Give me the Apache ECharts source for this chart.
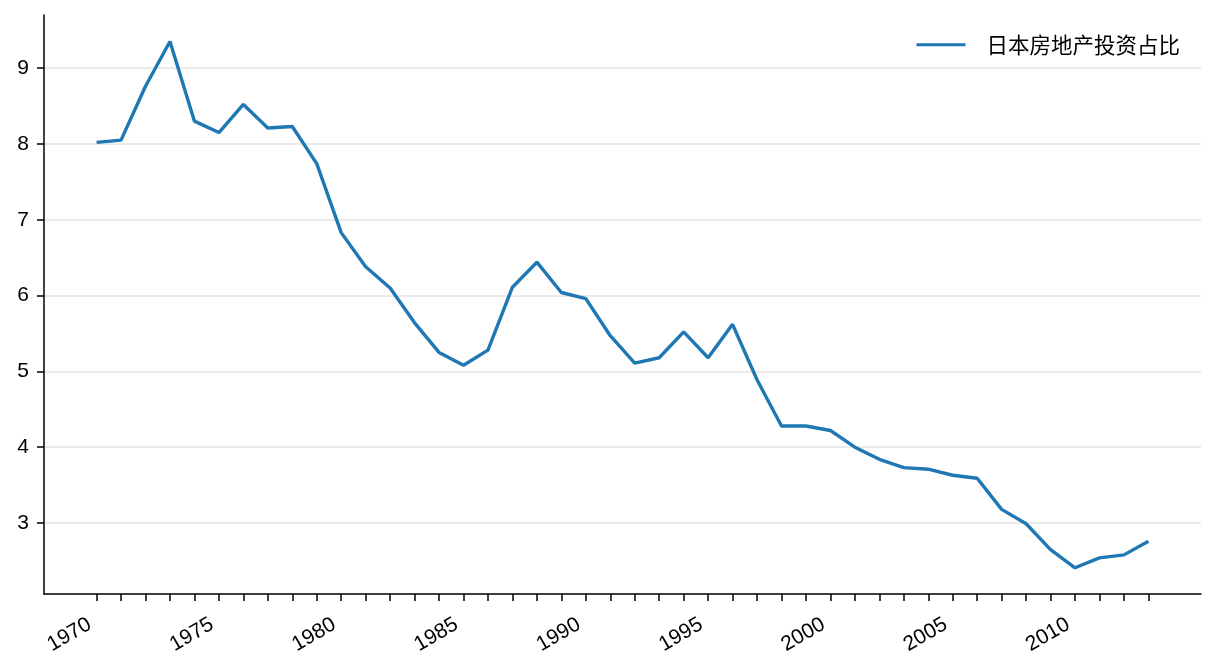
<!DOCTYPE html>
<html>
<head>
<meta charset="utf-8">
<script src="https://cdn.jsdelivr.net/npm/echarts@6/dist/echarts.min.js"></script>
<style>
html,body{margin:0;padding:0;background:#fff;}
#chart{width:1216px;height:672px;}
</style>
</head>
<body>
<div id="chart"></div>
<script>
const years = [1970,1971,1972,1973,1974,1975,1976,1977,1978,1979,
  1980,1981,1982,1983,1984,1985,1986,1987,1988,1989,
  1990,1991,1992,1993,1994,1995,1996,1997,1998,1999,
  2000,2001,2002,2003,2004,2005,2006,2007,2008,2009,
  2010,2011,2012,2013];
const values = [8.02,8.05,8.76,9.35,8.30,8.15,8.52,8.21,8.23,7.74,
  6.83,6.38,6.10,5.64,5.25,5.08,5.28,6.11,6.44,6.04,
  5.96,5.47,5.11,5.18,5.52,5.18,5.62,4.89,4.28,4.28,
  4.22,4.00,3.84,3.73,3.71,3.63,3.59,3.18,2.99,2.65,
  2.41,2.54,2.58,2.76];
const xLabelYears = [1970,1975,1980,1985,1990,1995,2000,2005,2010];
const yTicks = [3,4,5,6,7,8,9];
const seriesName = '日本房地产投资占比';

const chart = echarts.init(document.getElementById('chart'));
const fontFamily = '"Liberation Sans", Arial, "Noto Sans CJK SC", sans-serif';
chart.setOption({
  animation: false,
  backgroundColor: '#fff',
  textStyle: {fontFamily: fontFamily},
  grid: {left: 44, right: 15, top: 15, bottom: 78, containLabel: false},
  legend: {
    data: [seriesName],
    right: 31,
    top: 29,
    icon: 'rect',
    itemWidth: 49,
    itemHeight: 3,
    textStyle: {fontSize: 21.5, color: '#000', fontFamily: '"Noto Sans CJK SC", sans-serif', padding: [0,0,0,16]}
  },
  xAxis: {
    type: 'value',
    min: 1967.85,
    max: 2015.15,
    axisLine: {show: true, lineStyle: {color: '#000', width: 1.5}},
    axisTick: {show: true, customValues: years, length: 7, lineStyle: {color: '#000', width: 1.5}},
    axisLabel: {customValues: xLabelYears, rotate: 30, margin: 25, fontSize: 21, color: '#000',
      padding: [0, 8, 0, 0], formatter: v => String(v)},
    splitLine: {show: false}
  },
  yAxis: {
    type: 'value',
    min: 2.064,
    max: 9.70,
    axisLine: {show: true, lineStyle: {color: '#000', width: 1.5}},
    axisTick: {show: true, customValues: yTicks, length: 7, lineStyle: {color: '#000', width: 1.5}},
    axisLabel: {customValues: yTicks, margin: 15, fontSize: 21, color: '#000', formatter: v => String(v)},
    splitLine: {show: true, lineStyle: {color: '#e3e3e3', width: 1.5}}
  },
  series: [{
    name: seriesName,
    type: 'line',
    data: years.map((y, i) => [y, values[i]]),
    showSymbol: false,
    lineStyle: {color: '#1f77b4', width: 3.4},
    itemStyle: {color: '#1f77b4'}
  }]
});
</script>
</body>
</html>
